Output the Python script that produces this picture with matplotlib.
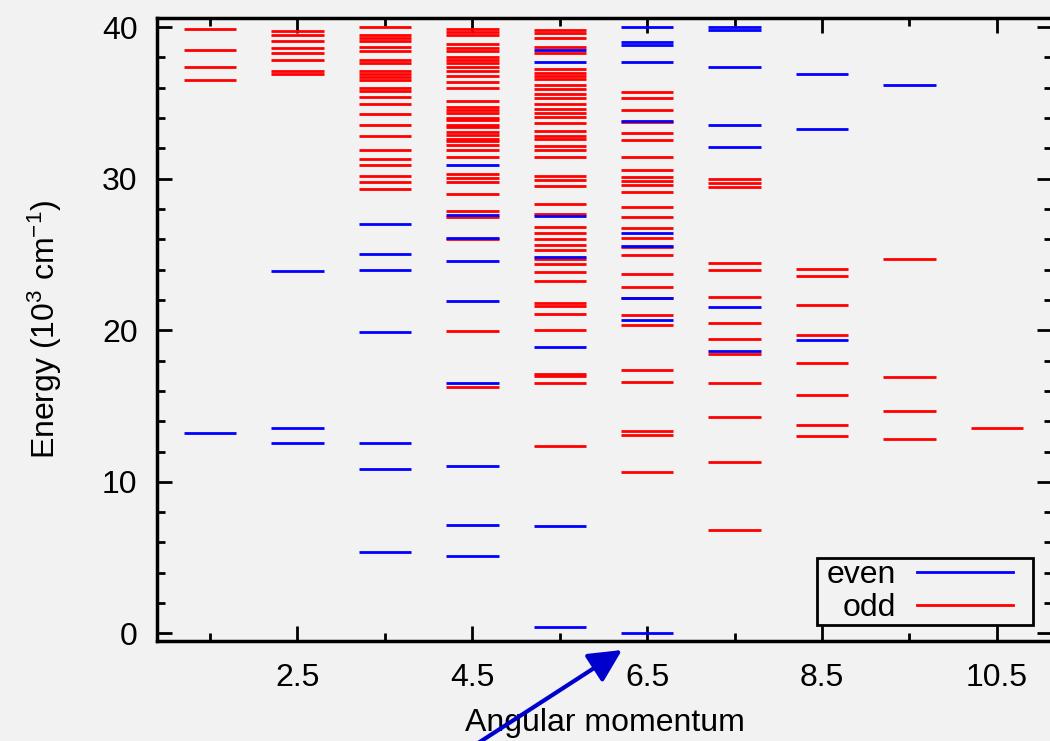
import matplotlib
matplotlib.use("Agg")
import matplotlib.pyplot as plt
from matplotlib.lines import Line2D
from matplotlib.patches import FancyArrowPatch, Rectangle

plt.rcParams['font.family'] = ['Liberation Sans', 'DejaVu Sans']
plt.rcParams['mathtext.default'] = 'regular'

# angular momentum J of each column
J_values = [1.5, 2.5, 3.5, 4.5, 5.5, 6.5, 7.5, 8.5, 9.5, 10.5]

# level energies (10^3 cm^-1), one list per J
even_levels = [
    [13.2],
    [23.9, 13.55, 12.56],
    [26.98, 25.06, 24.0, 19.9, 12.56, 10.87, 5.39],
    [30.9, 27.6, 26.1, 24.6, 21.9, 16.55, 11.02, 7.17, 5.1],
    [38.5, 37.7, 27.55, 24.8, 18.9, 7.1, 0.42],
    [40.0, 39.0, 38.8, 37.7, 33.8, 26.4, 25.55, 22.15, 20.65, 0.0],
    [40.0, 39.8, 37.35, 33.55, 32.1, 21.55, 18.6],
    [36.9, 33.25, 19.34],
    [36.2],
    [],
]

odd_levels = [
    [39.9, 38.5, 37.4, 36.5],
    [39.75, 39.5, 39.1, 38.6, 38.3, 37.8, 37.1, 36.9],
    [40.0, 39.45, 39.25, 39.05, 38.7, 38.4, 37.85, 37.65, 37.1, 36.9, 36.7,
     36.5, 36.0, 35.8, 35.4, 34.9, 34.25, 33.55, 32.8, 31.9, 31.3, 30.9,
     30.2, 29.8, 29.3],
    [39.9, 39.7, 39.5, 38.9, 38.6, 38.4, 38.05, 37.8, 37.6, 37.4, 37.1, 36.8,
     36.4, 36.0, 35.15, 34.75, 34.5, 34.3, 34.0, 33.85, 33.55, 33.4, 33.1,
     32.85, 32.65, 32.5, 32.2, 31.9, 31.45, 30.3, 30.05, 29.8, 29.0, 27.9,
     27.5, 26.05, 19.95, 16.24],
    [39.8, 39.6, 39.3, 38.7, 38.3, 37.25, 37.0, 36.8, 36.6, 36.2, 35.9, 35.6,
     35.3, 34.9, 34.6, 34.3, 34.05, 33.65, 33.15, 32.8, 32.6, 32.15, 31.9,
     31.45, 30.2, 29.9, 29.5, 28.35, 27.65, 26.8, 26.4, 26.0, 25.6, 25.3,
     24.7, 24.4, 23.85, 23.25, 21.8, 21.6, 21.05, 20.0, 17.1, 16.95, 16.55,
     12.37],
    [35.75, 35.3, 34.55, 33.75, 33.0, 32.55, 31.45, 30.6, 30.1, 29.85, 29.6,
     29.15, 28.1, 27.5, 26.75, 26.1, 25.5, 24.95, 23.7, 22.85, 22.1, 21.0,
     20.35, 17.36, 16.6, 13.35, 13.1, 10.65],
    [30.0, 29.7, 29.45, 24.45, 24.0, 22.2, 20.5, 19.4, 18.45, 16.5, 14.3,
     11.3, 6.8],
    [24.07, 23.56, 21.65, 19.67, 17.87, 15.7, 13.73, 13.02],
    [24.7, 16.93, 14.65, 12.83],
    [13.58],
]

x_major = [2.5, 4.5, 6.5, 8.5, 10.5]
x_minor = [1.5, 3.5, 5.5, 7.5, 9.5]
y_major = [0, 10, 20, 30, 40]

bg = '#f2f2f2'
fs = 23
half = 0.3
lw_level = 2.0

fig = plt.figure(figsize=(10.5, 7.41), dpi=100, facecolor=bg)
ax = fig.add_axes([157/1050, 100/741, (1052-157)/1050, 623/741])
ax.set_facecolor(bg)

for J, levels in zip(J_values, odd_levels):
    ax.hlines(levels, J - half, J + half, color='#ff0000', lw=lw_level)
for J, levels in zip(J_values, even_levels):
    ax.hlines(levels, J - half, J + half, color='#0000ff', lw=lw_level)

ax.set_xlim(0.894, 11.13)
ax.set_ylim(-0.5, 40.6)

ax.set_xticks(x_major)
ax.set_xticklabels([str(v) for v in x_major])
ax.set_xticks(x_minor, minor=True)
ax.set_yticks(y_major)
ax.set_yticks(range(0, 41, 2), minor=True)

ax.tick_params(which='both', direction='in', top=True, right=True,
               width=2, labelsize=fs, colors='black')
ax.tick_params(which='major', length=11)
ax.tick_params(which='minor', length=6)
ax.tick_params(axis='y', which='major', pad=14)
ax.tick_params(axis='x', which='major', pad=16)
for s in ax.spines.values():
    s.set_linewidth(2.5)

ax.set_xlabel('Angular momentum', fontsize=fs)
ax.set_ylabel('Energy (10$^3$ cm$^{-1}$)', fontsize=fs)
ax.xaxis.set_label_coords(0.5, -0.108)
ax.yaxis.set_label_coords(-0.104, 0.5)

# legend box drawn separately so the padding can match the original
box = Rectangle((0.7374, 0.0257), 0.2413, 0.1075, transform=ax.transAxes,
                facecolor=bg, edgecolor='black', lw=2, zorder=4.9)
ax.add_patch(box)

handles = [Line2D([], [], color='#0000ff', lw=lw_level),
           Line2D([], [], color='#ff0000', lw=lw_level)]
leg = ax.legend(handles, ['even', 'odd'], loc='center right',
                bbox_to_anchor=(0.9564, 0.0795), borderaxespad=0,
                markerfirst=False, fontsize=fs, handlelength=3.0,
                handletextpad=0.66, labelspacing=0.09, borderpad=0,
                frameon=False)
leg.set_zorder(5)

arrow = FancyArrowPatch((472/1050, -6/741), (622/1050, 91/741),
                        transform=fig.transFigure, arrowstyle='-|>',
                        mutation_scale=20, lw=3, color='#0000cd',
                        shrinkA=0, shrinkB=0)
arrow.set_arrowstyle('-|>', head_length=1.0, head_width=0.5)
fig.add_artist(arrow)

fig.savefig('out.png', dpi=100, facecolor=bg)
